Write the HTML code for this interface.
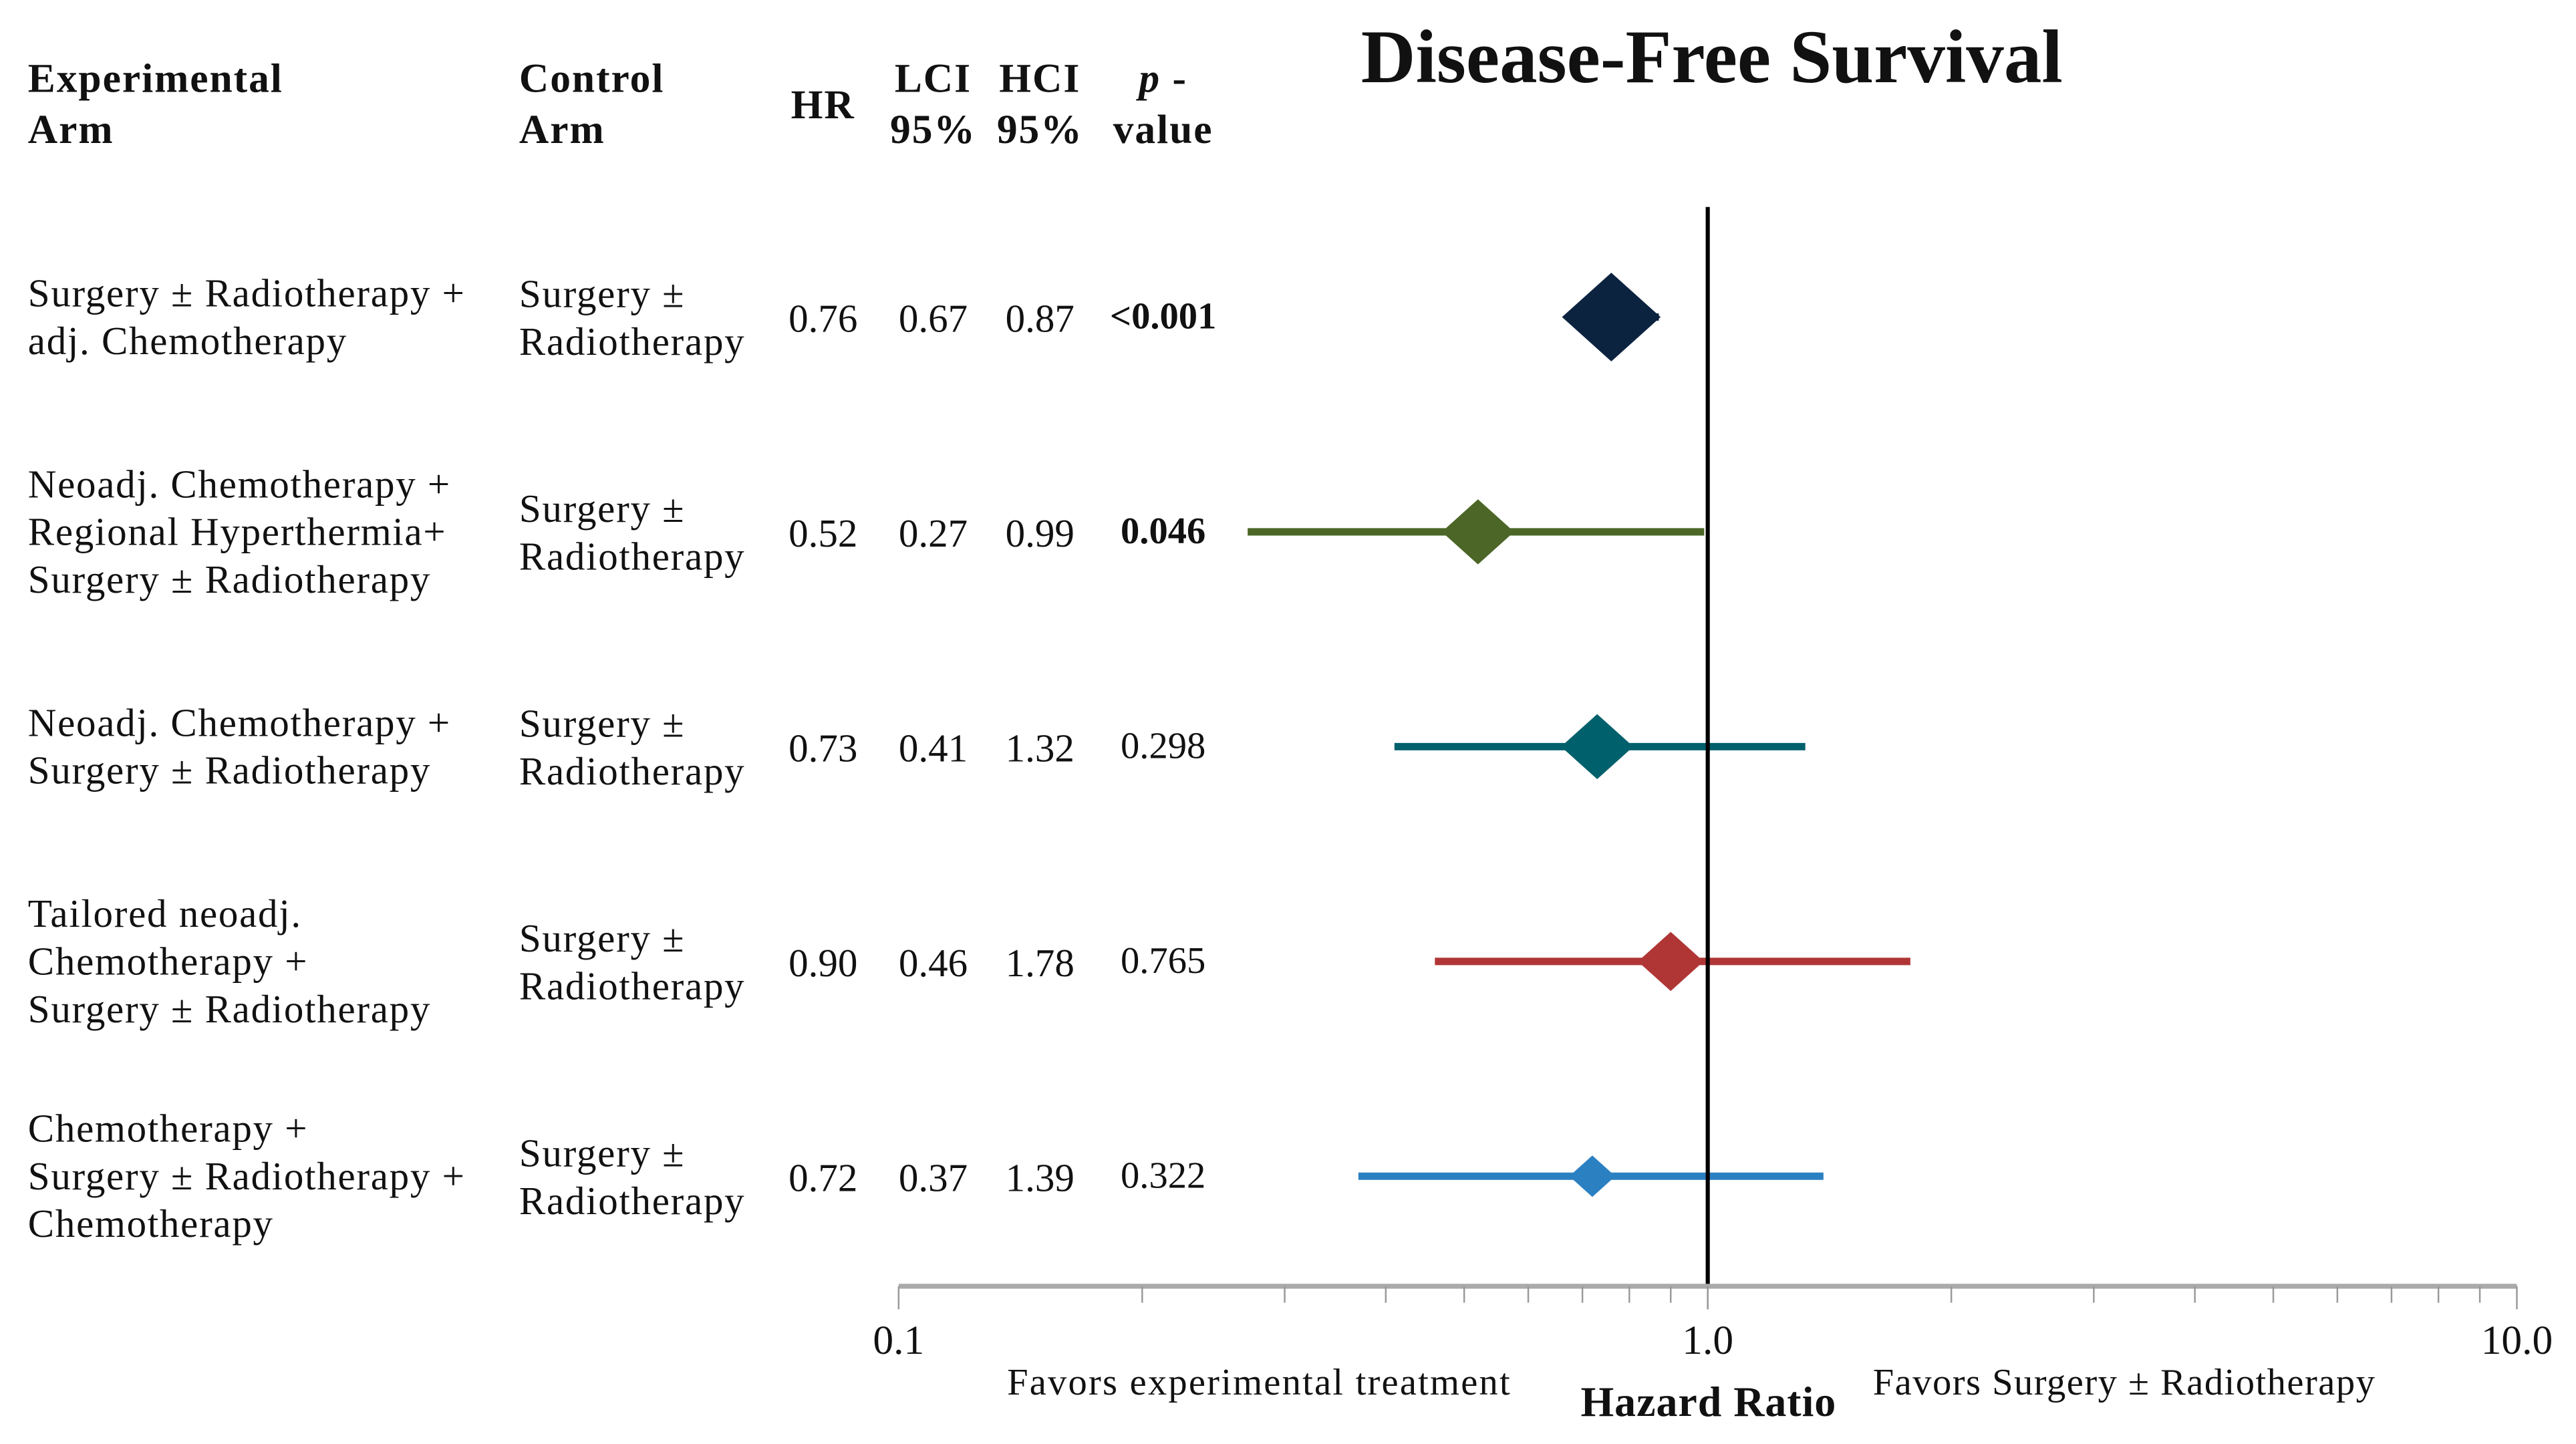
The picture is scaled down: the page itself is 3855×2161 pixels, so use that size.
<!DOCTYPE html>
<html><head><meta charset="utf-8"><style>
html,body{margin:0;padding:0;background:#fff;}
svg{display:block;}
text{font-family:"Liberation Serif",serif;fill:#111;}
</style></head><body>
<svg id="chart" width="3855" height="2161" viewBox="0 0 1568 879" preserveAspectRatio="none" xmlns="http://www.w3.org/2000/svg">
<text x="1042" y="50" font-size="46" font-weight="bold" text-anchor="middle">Disease-Free Survival</text>
<g font-size="25" font-weight="bold" letter-spacing="0.8">
<text x="17" y="56">Experimental</text><text x="17" y="87">Arm</text>
<text x="316" y="56">Control</text><text x="316" y="87">Arm</text>
<text x="501" y="72" text-anchor="middle">HR</text>
<text x="568" y="56" text-anchor="middle">LCI</text><text x="568" y="87" text-anchor="middle">95%</text>
<text x="633" y="56" text-anchor="middle">HCI</text><text x="633" y="87" text-anchor="middle">95%</text>
<text x="708" y="56" text-anchor="middle"><tspan font-style="italic">p</tspan> -</text><text x="708" y="87" text-anchor="middle">value</text>
</g>
<g id="rows"></g>
<g id="axis"></g>
<text x="613" y="849" font-size="23" letter-spacing="0.9">Favors experimental treatment</text>
<text x="1040" y="862" font-size="26" font-weight="bold" text-anchor="middle" letter-spacing="0.4">Hazard Ratio</text>
<text x="1140" y="849" font-size="23" letter-spacing="0.6">Favors  Surgery ± Radiotherapy</text>
</svg>
<script>
const expArms=[["Surgery ± Radiotherapy +","adj. Chemotherapy"],["Neoadj. Chemotherapy +","Regional Hyperthermia+","Surgery ± Radiotherapy"],["Neoadj. Chemotherapy +","Surgery ± Radiotherapy"],["Tailored neoadj.","Chemotherapy +","Surgery ± Radiotherapy"],["Chemotherapy +","Surgery ± Radiotherapy +","Chemotherapy"]];
const hrValues=[0.76,0.52,0.73,0.90,0.72];
const lciValues=[0.67,0.27,0.41,0.46,0.37];
const hciValues=[0.87,0.99,1.32,1.78,1.39];
const pValues=["<0.001","0.046","0.298","0.765","0.322"];
const pBold=[true,true,false,false,false];
const weights=[30,22,22,20,14];
const colors=["#0c2340","#4b6626","#00606b","#b03636","#2b80c2"];
const tickLabels=["0.1","1.0","10.0"];
const tickValues=[0.1,1,10];
const NS="http://www.w3.org/2000/svg";
const x0=547,x1=1532,rowTop=193,rowStep=130.75,axisY=783;
function xs(v){return x0+(Math.log10(v)+1)/2*(x1-x0);}
function ys(i){return rowTop+i*rowStep;}
function mk(tag,attrs,parent){const e=document.createElementNS(NS,tag);for(const k in attrs)e.setAttribute(k,attrs[k]);parent.appendChild(e);return e;}
const rows=document.getElementById('rows'),axis=document.getElementById('axis');
const ref=mk('line',{x1:xs(1),x2:xs(1),y1:126,y2:axisY,stroke:'#000','stroke-width':2.5},axis);


const al=mk('line',{x1:x0,x2:x1,y1:axisY,y2:axisY,stroke:'#aaa','stroke-width':3},axis);


for(let d=-1;d<1;d++){for(let m=1;m<=10;m++){const v=m*Math.pow(10,d);const t=mk('line',{x1:xs(v),x2:xs(v),y1:axisY,y2:(m==1||m==10)?797:793,stroke:'#999','stroke-width':1},axis);

}}
tickValues.forEach((v,i)=>{const t=mk('text',{x:xs(v),y:824,'font-size':25,'text-anchor':'middle'},axis);t.textContent=tickLabels[i];

});
hrValues.forEach((hr,i)=>{const y=ys(i);const g=mk('g',{},rows);


const n=expArms[i].length;const start=y-(n-1)*29/2+8;
expArms[i].forEach((s,j)=>{const t=mk('text',{x:17,y:start+j*29,'font-size':24,'letter-spacing':0.7},g);t.textContent=s;});
['Surgery ±','Radiotherapy'].forEach((s,j)=>{const t=mk('text',{x:316,y:y-14+8+j*29,'font-size':24,'letter-spacing':0.7},g);t.textContent=s;});
[[501,hr.toFixed(2)],[568,lciValues[i].toFixed(2)],[633,hciValues[i].toFixed(2)]].forEach(([x,s])=>{const t=mk('text',{x:x,y:y+9,'font-size':24,'text-anchor':'middle'},g);t.textContent=s;});
const p=mk('text',{x:708,y:y+7,'font-size':23,'text-anchor':'middle','font-weight':pBold[i]?'bold':'normal','font-family':'Liberation Sans, sans-serif'},g);p.textContent=pValues[i];
const ci=mk('line',{x1:xs(lciValues[i]),x2:xs(hciValues[i]),y1:y,y2:y,stroke:colors[i],'stroke-width':4.5},g);


const cx=xs(hr),w=weights[i];
const dm=mk('polygon',{points:`${cx-w},${y} ${cx},${y-w*0.9} ${cx+w},${y} ${cx},${y+w*0.9}`,fill:colors[i]},g);


});
</script>
</body></html>
